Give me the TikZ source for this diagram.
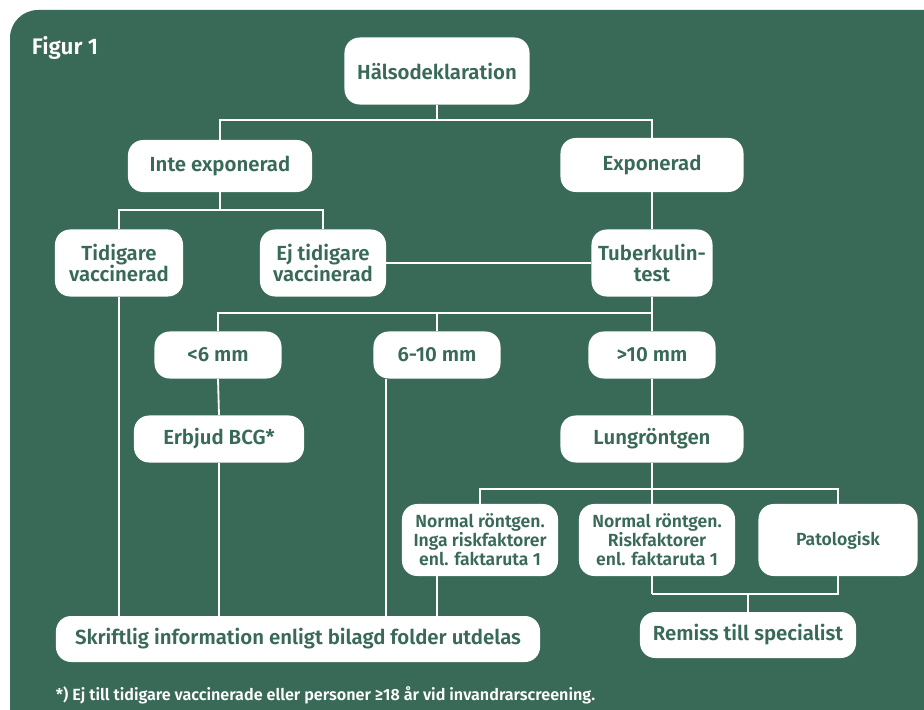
\documentclass[tikz,border=0pt]{standalone}
\usepackage{fontspec}
\setmainfont{Fira Sans}[BoldFont={Fira Sans SemiBold}]
\usepackage{tikz}
\usetikzlibrary{positioning,calc}
\definecolor{bggreen}{RGB}{57,106,87}

\begin{document}
\begin{tikzpicture}[
x=0.025cm, y=-0.025cm,
every node/.style={font=\bfseries},
box/.style={
fill=white,
rounded corners=0.38cm,
align=center,
text=bggreen,
inner sep=2pt,
font=\bfseries\fontsize{14.5}{15.5}\selectfont
},
smallbox/.style={
box,
font=\bfseries\fontsize{12.5}{13.5}\selectfont
},
link/.style={draw=white, line width=1.3pt}
]

\useasboundingbox (0,0) rectangle (924,709);
\fill[bggreen, rounded corners=0.7cm] (10,10) rectangle (960,740);

\node[anchor=west, text=white, font=\bfseries\fontsize{16}{18}\selectfont] (fig) at (27,48) {Figur 1};

% Main boxes
\node[box, minimum width=4.625cm, minimum height=1.675cm] (hals) at (437,71) {Hälsodeklaration};
\node[box, minimum width=4.6cm, minimum height=1.3cm] (inte) at (220,166) {Inte exponerad};
\node[box, minimum width=4.575cm, minimum height=1.35cm] (expo) at (652,165) {Exponerad};

\node[box, minimum width=3.2cm, minimum height=1.675cm] (tidig) at (119,263) {Tidigare\\vaccinerad};
\node[box, minimum width=3.15cm, minimum height=1.675cm] (ejtid) at (323,263) {Ej tidigare\\vaccinerad};
\node[box, minimum width=3.025cm, minimum height=1.675cm] (tuber) at (652,263) {Tuberkulin-\\test};

\node[box, minimum width=3.175cm, minimum height=1.175cm] (less6) at (218,355) {<6 mm};
\node[box, minimum width=3.175cm, minimum height=1.175cm] (mid) at (437,355) {6-10 mm};
\node[box, minimum width=3.175cm, minimum height=1.175cm] (more10) at (652,355) {>10 mm};

\node[box, minimum width=4.25cm, minimum height=1.175cm] (bcg) at (219,439) {Erbjud BCG*};
\node[box, minimum width=4.575cm, minimum height=1.175cm] (lung) at (652,439) {Lungröntgen};

\node[smallbox, minimum width=3.9cm, minimum height=1.8cm] (norm1) at (480,540) {Normal röntgen.\\Inga riskfaktorer\\enl. faktaruta 1};
\node[smallbox, minimum width=3.9cm, minimum height=1.8cm] (norm2) at (657,540) {Normal röntgen.\\Riskfaktorer\\enl. faktaruta 1};
\node[smallbox, minimum width=3.975cm, minimum height=1.8cm] (pato) at (838,540) {Patologisk};

\node[box, minimum width=12.1cm, minimum height=1.15cm] (skrift) at (298,639) {Skriftlig information enligt bilagd folder utdelas};
\node[box, minimum width=5.4cm, minimum height=1.15cm] (remiss) at (748,635) {Remiss till specialist};

\node[anchor=west, text=white, font=\bfseries\fontsize{11.5}{13}\selectfont] (note) at (51,695) {*) Ej till tidigare vaccinerade eller personer ≥18 år vid invandrarscreening.};

% Lines
\draw[link] (hals.south) -- ++(0,15) coordinate (j1);
\draw[link] (inte.north) |- (j1) -| (expo.north);
\draw[link] (inte.south) -- ++(0,18) coordinate (j2);
\draw[link] (tidig.north) |- (j2) -| (ejtid.north);
\draw[link] (expo.south) -- (tuber.north);
\draw[link] (ejtid.east) -- (tuber.west);
\draw[link] (tuber.south) -- ++(0,16) coordinate (j3);
\draw[link] (less6.north) |- (j3);
\draw[link] (mid.north) -- (mid.north |- j3);
\draw[link] (j3) -- (more10.north);
\draw[link] (less6.south) -- (bcg.north);
\draw[link] (more10.south) -- (lung.north);
\draw[link] (lung.south) -- ++(0,26) coordinate (j4);
\draw[link] (norm1.north -| mid.north) ++(43,0) coordinate (n1);
\draw[link] (n1) |- (j4) -| (pato.north);
\draw[link] (j4) -- (j4 |- norm2.north);
\draw[link] (j4 |- norm2.south) -- ++(0,18) coordinate (j5);
\draw[link] (j5) -| (pato.south);
\draw[link] (remiss.north) -- (remiss.north |- j5);
% to Skriftlig
\draw[link] (tidig.south) -- (tidig.south |- skrift.north);
\draw[link] (bcg.south) -- (bcg.south |- skrift.north);
\draw[link] ($(mid.south west)+(13,0)$) coordinate (m1) -- (m1 |- skrift.north);
\draw[link] (mid.north |- norm1.south) -- (mid.north |- skrift.north);

\end{tikzpicture}
\end{document}
